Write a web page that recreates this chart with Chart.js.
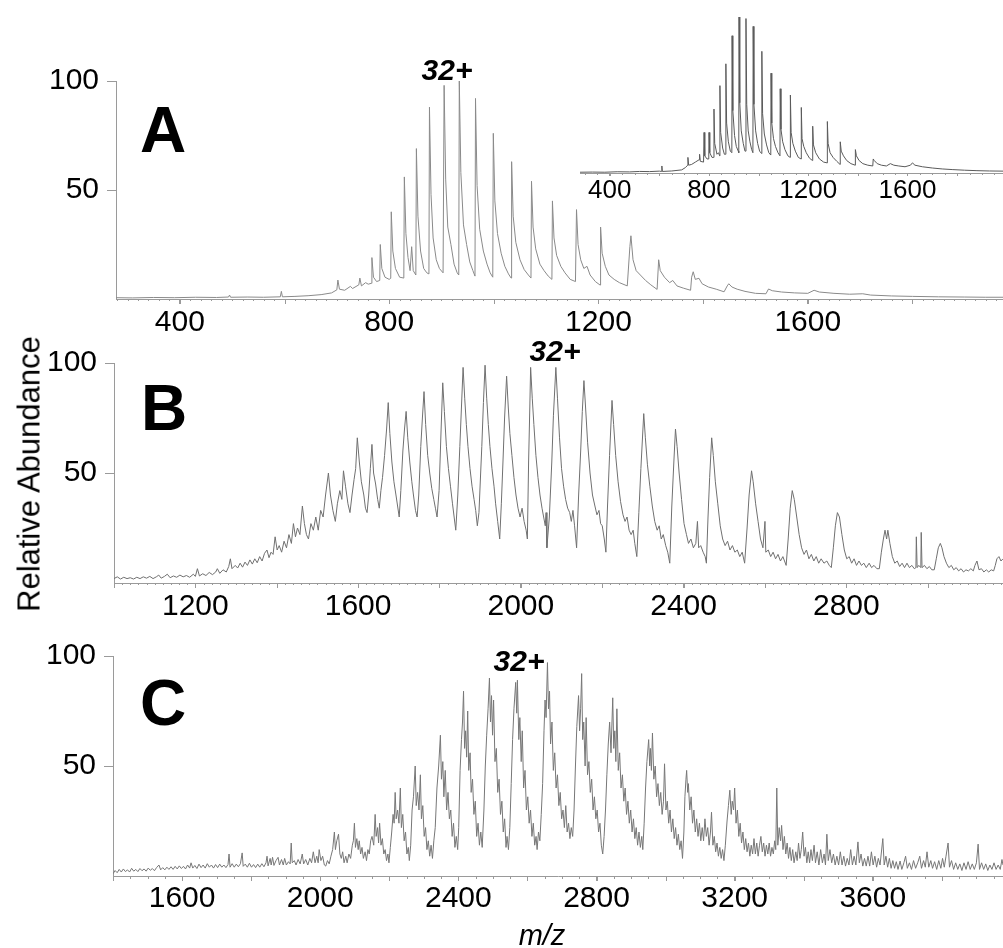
<!DOCTYPE html>
<html>
<head>
<meta charset="utf-8">
<title>ESI spectra A / B / C</title>
<script src="https://cdn.jsdelivr.net/npm/chart.js"></script>
<style>
  body { margin: 0; background: #fff; overflow: hidden; }
  #page { position: relative; width: 1003px; height: 948px; overflow: hidden;
          font-family: "Liberation Sans", Arial, sans-serif; }
  canvas { position: absolute; }
  .lbl { position: absolute; transform: translate(-50%, -50%); line-height: 1; white-space: nowrap; color: #000; }
  .panel { font-size: 64px; font-weight: bold; }
  .charge { font-size: 30px; font-weight: bold; font-style: italic; }
</style>
</head>
<body>
<div id="page">
  <canvas id="chartA" width="1003" height="300" style="left:0;top:40px"></canvas>
  <canvas id="chartInset" width="423" height="210" style="left:580px;top:0"></canvas>
  <canvas id="chartB" width="1003" height="300" style="left:0;top:330px"></canvas>
  <canvas id="chartC" width="1003" height="300" style="left:0;top:625px"></canvas>

  <div class="lbl panel" style="left:163px;top:130px">A</div>
  <div class="lbl panel" style="left:164px;top:408px">B</div>
  <div class="lbl panel" style="left:163px;top:703px">C</div>
  <div class="lbl charge" style="left:447px;top:70px">32+</div>
  <div class="lbl charge" style="left:555px;top:351px">32+</div>
  <div class="lbl charge" style="left:519px;top:661px">32+</div>
  <div class="lbl" style="left:29px;top:474px;font-size:31px;transform:translate(-50%,-50%) rotate(-90deg)">Relative Abundance</div>
  <div class="lbl" style="left:542px;top:935px;font-size:29px;font-style:italic">m/z</div>
</div>

<script>
// spectrum A (m/z, relative abundance)
const mzA = [
  278,310,350,390,430,470,493,495,497,530,
  560,592,594,596,620,645,670,690,700,702,
  705,715,726,730,742,744,747,755,760,766,
  767,770,776,782,783,786,792,800,803,804,
  807,812,820,828,829,832,836,840,843,846,
  851,852,855,860,866,872,876,877,880,884,
  890,896,903,905,908,912,918,924,930,933,
  934,937,942,948,954,960,964,965,968,973,
  980,987,993,998,999,1002,1007,1014,1021,1028,
  1033,1034,1037,1042,1050,1058,1066,1071,1072,1075,
  1080,1088,1096,1104,1111,1112,1115,1120,1128,1136,
  1146,1156,1158,1161,1166,1172,1178,1184,1194,1203,
  1204,1207,1213,1220,1230,1240,1255,1260,1262,1266,
  1272,1280,1290,1300,1312,1315,1318,1326,1336,1342,
  1350,1362,1376,1378,1381,1385,1392,1398,1410,1425,
  1440,1446,1449,1455,1465,1480,1500,1520,1525,1532,
  1550,1575,1600,1612,1622,1650,1680,1705,1720,1760,
  1800,1850,1900,1940,1973
];
const relA = [
  0.6,0.5,0.7,0.6,0.8,0.7,0.9,1.8,0.8,0.9,
  0.8,1.0,3.5,1.0,1.2,1.5,2.0,2.8,4.2,8.7,
  4.5,4.0,5.8,4.8,6.5,9.6,6.0,7.5,6.8,7.2,
  19,10,8,8.5,25,14,10,9,9.5,40,
  22,14,10,9.6,56,30,19,13,24,13,
  11,69,38,22,14,12,11.5,88,48,28,
  18,14,12,98,55,33,25,16,12,11,
  100,58,34,25,17,13,10.5,92,52,32,
  22,16,12,10,76,45,30,21,15,11.5,
  9.6,63,38,26,18,13.5,11,9.6,54,33,
  23,16,13,10.5,9,45,28,20,15,12,
  9,8,41,25,18,14,15,11,8,6.4,
  33,21,15,11,9,7.5,6,24,29,18,
  13,11,8.5,6.5,4.4,18,13,10,7.5,8.5,
  6,5,4,10,12.5,9,9.5,7,5.5,4.5,
  3.3,6,7,5.5,4.5,3.5,2.6,2.4,4.6,3.8,
  3.2,2.8,2.6,4.0,3.2,2.6,2.2,2.4,1.8,1.4,
  1.2,1.0,0.9,0.8,0.8
];

// inset spectrum (top right of A)
const mzInset = [
  280,330,380,430,480,520,560,600,608,610,
  612,650,690,705,714,715,718,730,745,760,
  762,765,778,780,783,792,799,800,803,812,
  819,820,823,832,838,843,844,847,855,862,
  867,868,871,878,886,892,893,896,903,910,
  918,920,921,924,930,938,945,948,949,952,
  958,965,972,977,978,981,988,996,1004,1012,
  1013,1016,1023,1032,1041,1049,1050,1053,1060,1068,
  1078,1086,1087,1090,1097,1106,1118,1127,1128,1131,
  1138,1148,1160,1171,1172,1175,1182,1192,1205,1217,
  1218,1221,1230,1245,1262,1276,1277,1280,1288,1300,
  1315,1328,1329,1333,1342,1355,1372,1389,1390,1394,
  1405,1420,1440,1460,1462,1466,1478,1495,1515,1531,
  1545,1565,1590,1612,1620,1630,1660,1700,1740,1780,
  1830,1880,1930,1985
];
const relInset = [
  0.5,0.6,0.5,0.8,0.7,1.0,0.9,1.2,1.0,4.5,
  1.0,1.3,2.0,3.5,5,10,5,5.5,7,8.5,
  12,7.5,7,26,11,9,9,26,13,10,
  10,41,19,12,13,11,56,26,16,12,
  12,70,32,20,14,13,88,40,24,17,
  14,13,100,45,27,19,14,14,99,44,
  27,20,15,13,94,44,27,19,14,12.5,
  78,38,25,18,13,11.5,64,32,22,17,
  13,11,54,28,20,15,11,10,50,26,
  19,14,10,9,42,22,17,13,9.5,8,
  30,18,13,9,7,6.5,33,19,13,10,
  7.5,5.5,20,14,11,8,6,5,15,11,
  8,6,5,4.5,9,8,6,5,4.5,6,
  5,4.5,4,5,6.5,5,4,3.2,2.6,2.2,
  1.8,1.5,1.3,1.2
];

// spectrum B
const mzB = [
  1000,1008,1016,1024,1032,1040,1048,1056,1064,1072,
  1080,1088,1096,1104,1110,1116,1124,1131,1138,1146,
  1154,1162,1170,1178,1186,1195,1200,1205,1210,1218,
  1226,1234,1242,1250,1254,1260,1268,1276,1282,1286,
  1290,1298,1304,1310,1316,1322,1328,1334,1340,1346,
  1352,1358,1364,1370,1376,1381,1386,1391,1396,1401,
  1406,1412,1418,1424,1430,1436,1441,1446,1451,1457,
  1463,1468,1473,1478,1484,1490,1496,1502,1508,1514,
  1520,1527,1532,1538,1544,1549,1555,1560,1564,1569,
  1575,1580,1585,1590,1594,1598,1603,1608,1614,1618,
  1622,1626,1630,1634,1638,1643,1648,1652,1656,1660,
  1665,1670,1674,1678,1683,1688,1693,1697,1701,1705,
  1710,1714,1718,1722,1727,1732,1736,1741,1745,1749,
  1754,1758,1762,1766,1771,1776,1781,1786,1790,1794,
  1799,1804,1808,1812,1817,1822,1827,1832,1836,1840,
  1845,1850,1854,1858,1862,1866,1870,1875,1880,1885,
  1889,1893,1897,1900,1904,1908,1912,1916,1920,1924,
  1929,1934,1938,1943,1948,1952,1956,1960,1965,1969,
  1973,1978,1983,1988,1993,1998,2003,2008,2013,2016,
  2019,2022,2024,2028,2032,2037,2042,2047,2052,2056,
  2060,2062,2064,2070,2076,2080,2086,2090,2095,2100,
  2105,2110,2115,2120,2124,2128,2132,2137,2142,2147,
  2151,2155,2159,2164,2170,2176,2182,2187,2192,2196,
  2200,2205,2209,2213,2218,2224,2228,2233,2239,2245,
  2251,2256,2261,2266,2271,2276,2280,2285,2290,2295,
  2302,2306,2311,2317,2323,2329,2335,2340,2345,2350,
  2356,2361,2366,2371,2376,2380,2384,2389,2395,2401,
  2407,2412,2418,2424,2430,2434,2437,2442,2448,2453,
  2456,2460,2464,2469,2473,2478,2484,2490,2496,2502,
  2508,2514,2520,2526,2532,2538,2544,2550,2556,2561,
  2567,2571,2577,2583,2589,2595,2600,2602,2608,2614,
  2620,2626,2632,2638,2644,2652,2657,2662,2667,2672,
  2678,2684,2690,2696,2702,2708,2714,2720,2726,2732,
  2738,2745,2752,2758,2763,2768,2773,2778,2783,2789,
  2795,2801,2807,2813,2819,2825,2831,2837,2843,2849,
  2856,2862,2868,2875,2881,2886,2891,2895,2899,2902,
  2907,2913,2919,2925,2931,2937,2943,2949,2955,2961,
  2967,2971,2972,2974,2978,2983,2984,2986,2992,2998,
  3004,3010,3016,3021,3026,3031,3035,3040,3046,3052,
  3058,3064,3070,3076,3082,3088,3094,3100,3106,3112,
  3116,3121,3126,3132,3138,3144,3150,3156,3162,3166,
  3170,3175,3180,3185
];
const relB = [
  2,2.8,1.8,2.6,2.0,2.4,1.8,2.6,2.0,2.8,
  2.2,3.0,2.0,2.8,3.6,2.2,3.0,4.0,2.4,3.2,
  2.6,3.6,2.8,3.4,2.6,4.0,3.0,6.5,3.2,4.2,
  3.4,4.8,3.8,5.0,6.5,4.4,6.0,5.0,7.5,11,
  6.5,8.0,6.8,9.0,7.2,9.5,8.0,10.5,8.6,11,
  9.2,12,10,13.5,15,11.5,14,13,21,15,
  17,14,19,16,22,18,27,21,25,22,
  35,27,22,20,27,24,30,24,33,30,
  40,50,40,33,28,36,42,38,51,44,
  36,32,40,47,52,66,55,46,40,34,
  32,40,52,63,50,45,38,34,42,48,
  58,70,82,68,55,46,40,35,30,42,
  60,70,78,66,55,46,40,33,30,40,
  62,75,87,72,58,50,43,38,34,30,
  42,70,91,78,62,52,44,36,30,24,
  40,62,80,98,84,72,62,52,44,38,
  33,26,32,45,62,82,99,84,72,62,
  52,44,36,28,20,36,55,75,94,80,
  68,58,48,40,34,30,34,28,24,20,
  55,80,98,84,72,58,48,40,34,30,
  26,32,16,30,55,76,98,84,66,52,
  44,38,34,32,28,33,26,16,40,60,
  78,92,80,64,50,40,35,31,33,27,
  26,20,14,35,58,83,72,58,46,37,
  31,28,30,24,22,24,18,12,32,52,
  77,66,54,44,35,28,24,26,20,22,
  17,14,9,35,55,70,62,50,38,27,
  22,18,20,16,18,28,16,17,14,12,
  9,30,48,66,58,46,36,26,20,17,
  19,15,17,14,15,12,14,9,25,40,
  51,46,36,28,20,16,28,14,15,12,
  14,11,13,10,12,8,20,34,42,38,
  30,22,16,13,15,11,13,10,12,9,
  11,9,10,8,7,16,26,32,30,22,
  15,11,12,9,11,8,10,8,9,7,
  9,7,8,6.5,6.5,14,20,24,20,24,
  18,12,9,10,7.5,9,7,9,7,8,
  6.5,7,21,7,8,7,23,7,8,6.5,
  7.5,6,6,11,16,18,16,12,9,7,
  8,6,7,5.5,6.5,5,6,5.5,6.5,5.5,
  8,10,6,6.5,5,6,5,6,5.5,8,
  11,12,10,11
];

// spectrum C
const mzC = [
  1400,1406,1412,1418,1424,1430,1436,1442,1448,1454,
  1460,1466,1472,1478,1484,1490,1496,1502,1508,1514,
  1520,1526,1533,1538,1544,1550,1556,1562,1568,1574,
  1580,1586,1592,1598,1604,1610,1616,1622,1626,1631,
  1637,1643,1649,1655,1661,1667,1673,1679,1685,1691,
  1697,1703,1709,1715,1721,1727,1733,1736,1739,1745,
  1751,1757,1763,1769,1774,1777,1783,1789,1795,1801,
  1807,1813,1819,1825,1831,1837,1843,1846,1849,1855,
  1858,1862,1866,1872,1878,1882,1888,1893,1897,1902,
  1908,1913,1916,1919,1925,1930,1936,1942,1948,1952,
  1958,1964,1970,1975,1980,1985,1990,1994,1997,2002,
  2007,2012,2016,2021,2026,2031,2036,2041,2044,2048,
  2053,2057,2061,2065,2069,2074,2078,2083,2088,2093,
  2096,2099,2102,2106,2110,2113,2117,2121,2125,2130,
  2134,2138,2142,2146,2150,2155,2159,2162,2166,2169,
  2172,2176,2180,2184,2188,2192,2196,2199,2203,2207,
  2211,2214,2217,2220,2224,2228,2232,2235,2239,2243,
  2247,2251,2255,2258,2262,2266,2270,2275,2278,2282,
  2286,2290,2293,2297,2301,2305,2309,2313,2317,2321,
  2325,2329,2333,2338,2343,2348,2351,2355,2358,2362,
  2366,2370,2374,2378,2382,2386,2390,2394,2398,2401,
  2405,2409,2412,2415,2418,2421,2424,2427,2430,2434,
  2437,2441,2445,2449,2453,2457,2461,2465,2469,2474,
  2478,2482,2486,2490,2493,2496,2499,2502,2506,2510,
  2514,2518,2522,2526,2530,2534,2538,2541,2545,2549,
  2553,2557,2561,2566,2569,2571,2575,2578,2582,2585,
  2589,2593,2597,2601,2605,2609,2613,2617,2621,2625,
  2628,2632,2636,2640,2644,2648,2651,2654,2658,2661,
  2664,2667,2671,2675,2679,2683,2687,2691,2695,2699,
  2703,2707,2711,2715,2719,2723,2727,2731,2735,2739,
  2743,2748,2751,2754,2757,2760,2763,2767,2770,2774,
  2778,2782,2786,2790,2794,2798,2802,2806,2810,2814,
  2818,2822,2826,2830,2834,2838,2842,2847,2850,2853,
  2856,2859,2863,2867,2871,2875,2879,2883,2887,2891,
  2895,2899,2903,2907,2911,2915,2919,2923,2927,2931,
  2934,2938,2942,2946,2951,2954,2956,2959,2962,2966,
  2970,2974,2978,2982,2986,2990,2994,2997,3001,3005,
  3009,3013,3017,3021,3025,3029,3033,3037,3041,3045,
  3049,3053,3056,3059,3061,3064,3066,3070,3074,3078,
  3082,3086,3090,3094,3098,3102,3106,3110,3114,3118,
  3122,3126,3130,3133,3137,3141,3145,3149,3153,3157,
  3161,3165,3169,3173,3178,3182,3186,3190,3193,3197,
  3200,3204,3208,3212,3216,3220,3224,3228,3232,3236,
  3240,3244,3248,3252,3256,3260,3264,3268,3272,3276,
  3280,3284,3288,3292,3296,3300,3304,3308,3312,3316,
  3319,3322,3325,3329,3333,3336,3340,3344,3348,3352,
  3356,3360,3364,3368,3372,3377,3381,3385,3389,3393,
  3397,3401,3405,3409,3413,3417,3421,3425,3430,3434,
  3439,3444,3449,3454,3459,3463,3467,3471,3476,3481,
  3486,3491,3496,3501,3506,3511,3516,3521,3526,3531,
  3536,3541,3546,3551,3557,3561,3566,3571,3576,3581,
  3586,3591,3596,3601,3606,3611,3616,3621,3629,3633,
  3638,3643,3648,3653,3658,3663,3668,3673,3679,3684,
  3690,3695,3700,3706,3712,3718,3724,3730,3736,3741,
  3747,3752,3757,3762,3768,3773,3779,3785,3791,3797,
  3802,3807,3812,3818,3822,3828,3834,3840,3846,3852,
  3858,3864,3870,3876,3882,3888,3894,3900,3905,3909,
  3915,3921,3927,3933,3939,3945,3951,3957,3963,3969,
  3974,3977
];
const relC = [
  1,2.5,1.5,3,1.8,3.2,2,2.8,1.8,3.5,
  2.2,3,2,3.4,2.4,3.2,2.2,3.6,2.6,3.4,
  2.4,3.8,5,2.8,3.8,2.8,4,3,4.2,3,
  4.4,3.2,4.6,3.4,4.4,3.2,5,3.6,6,3.6,
  4.8,3.4,5.4,3.8,5,3.6,5.6,4,5,3.6,
  5.2,3.8,5.4,4,5,3.8,5.2,10,4,5.6,
  4,5.4,4.2,5.6,10.5,4.4,5.4,4,5.8,4,
  5.2,3.8,5.4,4,5.6,4.2,6,9,4.6,8,
  5,8.5,4.8,7,8.5,5,7.5,5,8,5,
  6.5,5.5,15,6,7,5,7.5,5.5,10,5.5,
  7.5,5,8,6,11,6,9,6,12,7,
  9,5,4.5,7,5.5,9,12,20,12,16,
  19,10,8,11,6,9,6,10,8,14,
  16,24,13,17,12,16,10,13,8,11,
  7,12,10,16,18,14,28,18,22,15,
  24,14,17,10,12,7,10,6,13,20,
  28,24,38,26,30,24,40,22,28,16,
  20,10,13,7,14,30,36,50,32,38,
  30,46,26,32,18,22,12,16,9,14,
  8,16,22,40,50,64,44,52,36,48,
  30,38,26,30,18,24,13,18,12,22,
  48,62,70,84,58,66,54,75,48,56,
  38,44,28,34,18,24,14,20,13,30,
  50,64,76,90,70,82,64,80,52,58,
  38,44,28,34,20,26,13,18,12,22,
  42,62,76,88,74,89,62,72,52,66,
  40,48,30,36,24,30,18,24,14,18,
  12,20,16,28,42,66,80,72,97,76,
  84,60,70,48,56,40,46,32,38,26,
  30,22,32,20,24,17,22,18,30,50,
  68,82,66,76,92,62,70,50,72,46,
  52,38,44,30,36,26,30,20,24,14,
  10,18,30,46,60,70,56,81,58,66,
  52,76,48,56,40,46,34,40,28,34,
  24,30,20,26,17,22,14,20,13,18,
  12,24,40,52,62,50,58,48,65,44,
  50,36,42,32,38,28,34,51,30,34,
  24,30,20,26,17,22,14,19,12,16,
  8,20,36,44,48,38,42,30,36,24,
  30,20,26,18,24,16,22,16,26,18,
  22,14,20,29,14,18,11,15,9,13,
  8,12,7,14,25,32,39,28,34,30,
  40,24,30,18,24,15,20,12,17,11,
  15,9,14,10,17,10,15,9,14,18,
  11,15,9,14,10,15,9,13,10,16,
  12,40,14,22,16,23,12,18,10,15,
  8,13,7,12,6,11,7,15,8,12,
  20,9,13,6,11,6,12,7,14,6,
  11,5,12,6,10,5,19,7,12,6,
  10,5,9,5,11,5,9,4.5,8,5,
  12,5,9,5,15.5,6,10,4.5,8,4.5,
  9,4.5,11,5,9,4,8,5,17,5,
  9,4,8,3.5,7,3.5,6.5,3,6.8,3,
  6,9,3.5,6,3,7,3.5,6,9,3.5,
  7,4,11,4,7,3.5,6.5,3,7,3.5,
  8,4,9,15,4,7,3,6,3,5.5,
  2.5,6,3,6.5,3,5.5,3,6,14.5,3,
  6,3,5.5,2.5,5,3,6,3,5,3,
  7.5,5
];

// tick labels
const xTicksA = [400, 800, 1200, 1600];
const xTicksInset = [400, 800, 1200, 1600];
const xTicksB = [1200, 1600, 2000, 2400, 2800];
const xTicksC = [1600, 2000, 2400, 2800, 3200, 3600];
const yTicks = [50, 100];

Chart.defaults.font.family = '"Liberation Sans", Arial, sans-serif';

// small tick marks along the m/z axis
const minorTicks = {
  id: 'minorTicks',
  afterDraw(chart, args, opts) {
    const s = chart.scales.x;
    const ctx = chart.ctx;
    ctx.save();
    ctx.strokeStyle = '#9a9a9a';
    ctx.lineWidth = 1;
    ctx.beginPath();
    for (let v = Math.ceil(s.min / opts.minor) * opts.minor; v <= s.max; v += opts.minor) {
      const px = Math.round(s.getPixelForValue(v)) + 0.5;
      const len = v % opts.major === 0 ? opts.majorLen : opts.minorLen;
      ctx.moveTo(px, s.top);
      ctx.lineTo(px, s.top + len);
    }
    ctx.stroke();
    ctx.restore();
  }
};

function makeSpectrum(id, mz, rel, cfg) {
  const points = mz.map((m, i) => ({ x: m, y: rel[i] }));
  return new Chart(document.getElementById(id), {
    type: 'line',
    data: {
      datasets: [{
        data: points,
        borderColor: cfg.color,
        borderWidth: 1,
        pointRadius: 0,
        tension: 0
      }]
    },
    options: {
      responsive: false,
      animation: false,
      devicePixelRatio: 1,
      layout: { padding: { top: cfg.padTop, left: 0, right: 0, bottom: 0 } },
      plugins: {
        legend: { display: false },
        tooltip: { enabled: false },
        minorTicks: { minor: cfg.minor, major: 200, minorLen: cfg.minorLen, majorLen: cfg.majorLen }
      },
      scales: {
        x: {
          type: 'linear',
          min: cfg.xMin,
          max: cfg.xMax,
          afterBuildTicks: s => { s.ticks = cfg.xTicks.map(v => ({ value: v })); },
          afterFit: s => { s.height = cfg.xHeight; s.paddingLeft = 0; s.paddingRight = 0; },
          ticks: {
            autoSkip: false,
            maxRotation: 0,
            padding: cfg.xPad,
            color: '#000',
            font: { size: cfg.fontSize, lineHeight: 1 },
            callback: v => String(v)
          },
          grid: { drawOnChartArea: false, tickLength: cfg.majorLen, color: '#9a9a9a' },
          border: { color: '#9a9a9a' }
        },
        y: {
          display: cfg.yWidth > 0,
          min: 0,
          max: 100,
          afterBuildTicks: s => { s.ticks = yTicks.map(v => ({ value: v })); },
          afterFit: s => { s.width = cfg.yWidth; s.paddingTop = 0; s.paddingBottom = 0; },
          ticks: {
            padding: 8,
            color: '#000',
            font: { size: 30, lineHeight: 1 },
            callback: v => String(v)
          },
          grid: { drawOnChartArea: false, tickLength: 9, color: '#9a9a9a' },
          border: { color: '#9a9a9a' }
        }
      }
    },
    plugins: [minorTicks]
  });
}

makeSpectrum('chartA', mzA, relA, {
  color: '#8a8a8a', xMin: 278, xMax: 1973, xTicks: xTicksA,
  padTop: 41, xHeight: 41, xPad: 4, fontSize: 30, yWidth: 116,
  minor: 20, minorLen: 2, majorLen: 5
});
makeSpectrum('chartInset', mzInset, relInset, {
  color: '#5a5a5a', xMin: 280, xMax: 1985, xTicks: xTicksInset,
  padTop: 17, xHeight: 37, xPad: 2, fontSize: 26, yWidth: 0,
  minor: 50, minorLen: 2, majorLen: 3
});
makeSpectrum('chartB', mzB, relB, {
  color: '#707070', xMin: 1000, xMax: 3185, xTicks: xTicksB,
  padTop: 33, xHeight: 47, xPad: 4, fontSize: 30, yWidth: 114,
  minor: 20, minorLen: 2, majorLen: 5
});
makeSpectrum('chartC', mzC, relC, {
  color: '#777777', xMin: 1400, xMax: 3977, xTicks: xTicksC,
  padTop: 31, xHeight: 49, xPad: 3, fontSize: 30, yWidth: 113,
  minor: 50, minorLen: 3, majorLen: 5
});
</script>
</body>
</html>
